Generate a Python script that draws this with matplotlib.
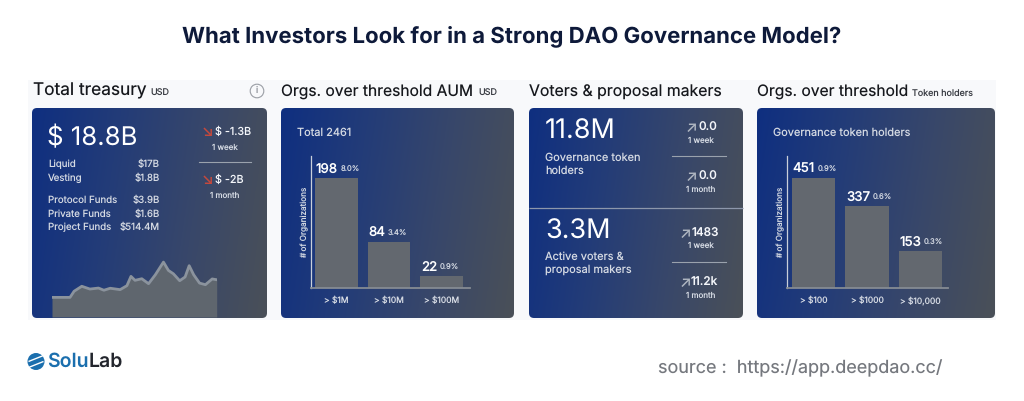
#!/usr/bin/env python
"""Four-card overview of DAO treasury, organisation and voter figures."""

import matplotlib
matplotlib.use('Agg')
import matplotlib.pyplot as plt
import matplotlib.patches as mpatch
from matplotlib.colors import LinearSegmentedColormap
import numpy as np

W, H = 1024, 401

plt.rcParams['font.family'] = ['Inter', 'DejaVu Sans']
plt.rcParams['text.hinting'] = 'no_hinting'

# treasury card
fund_names = ['Liquid', 'Vesting', 'Protocol Funds', 'Private Funds', 'Project Funds']
fund_values = ['$17B', '$1.8B', '$3.9B', '$1.6B', '$514.4M']
treasury_days = [0, 40, 49, 66, 84, 103, 115, 129, 151, 166, 175, 184, 199, 214, 229, 247,
                 258, 269, 283, 295, 304, 314, 327, 340, 355, 365]
treasury_bn = [9.9, 9.9, 13.0, 15.5, 14.1, 14.6, 13.5, 14.5, 13.8, 15.8, 20.5, 18.5, 19.3,
               16.8, 21.3, 27.7, 23.5, 21.8, 18.3, 20.2, 25.9, 21.3, 17.1, 16.3, 19.2, 18.8]

# bar cards
aum_labels = ['> $1M', '> $10M', '> $100M']
aum_counts = [198, 84, 22]
aum_shares = ['8.0%', '3.4%', '0.9%']
holder_labels = ['> $100', '> $1000', '> $10,000']
holder_counts = [451, 337, 153]
holder_shares = ['0.9%', '0.6%', '0.3%']

INK = '#16181d'
SOFT = '#d5dae3'
WHITE = '#f4f6fa'
RED = '#c4493d'
GRAD = LinearSegmentedColormap.from_list('card', ['#0f2f80', '#233c78', '#38476a', '#4a5058'])


def label(ax, x, y, s, px, color=WHITE, ha='left', **kwargs):
    return ax.text(x, y, s, fontsize=px * 0.72, color=color, ha=ha, va='center', **kwargs)


def card(ax, x0, x1, y0=108, y1=318):
    """Rounded card with a left-to-right blue to grey gradient."""
    xx, yy = np.meshgrid(np.linspace(0, 1, 200), np.linspace(0, 1, 100))
    img = ax.imshow(0.88 * xx + 0.12 * yy, extent=(x0, x1, y1, y0), cmap=GRAD, vmin=0, vmax=1,
                    aspect='auto', zorder=1, interpolation='bilinear')
    box = mpatch.FancyBboxPatch((x0 + 4, y0 + 4), x1 - x0 - 8, y1 - y0 - 8,
                                boxstyle='round,pad=4,rounding_size=5',
                                transform=ax.transData, fc='none', ec='none')
    ax.add_patch(box)
    img.set_clip_path(box)


def inset(x0, y_top, x1, y_bottom):
    a = fig.add_axes([x0 / W, 1 - y_bottom / H, (x1 - x0) / W, (y_bottom - y_top) / H])
    a.patch.set_visible(False)
    return a


def bar_panel(x0, x1, labels, counts, shares, xlim, ylim):
    a = inset(x0, 156, x1, 288.3)
    bars = a.bar(range(len(counts)), counts, width=0.81, color='#63686f')
    a.set(xlim=xlim, ylim=ylim, yticks=[], xticks=range(len(counts)))
    a.set_xticklabels(labels, fontsize=6.1, color=SOFT)
    a.tick_params(axis='x', length=0, pad=6)
    a.set_ylabel('# of Organizations', fontsize=5.9, color=SOFT, labelpad=1.5, y=0.5)
    for side in ('top', 'right'):
        a.spines[side].set_visible(False)
    a.spines['left'].set_color('#c9cfda')
    a.spines['bottom'].set_color('#858b93')
    a.spines['left'].set_linewidth(0.9)
    a.spines['bottom'].set_linewidth(1.3)
    for rect, count, share in zip(bars, counts, shares):
        num = a.annotate(str(count), (rect.get_x(), count), xytext=(0.5, 9), textcoords='offset pixels',
                         fontsize=9.5, color='white', va='center', ha='left', fontweight='medium')
        a.annotate(share, xy=(1, 0.5), xycoords=num, xytext=(2.5, -1), textcoords='offset pixels',
                   fontsize=5.5, color=SOFT, va='center', ha='left')
    return a


fig = plt.figure(figsize=(W / 100, H / 100), dpi=100, facecolor='white')
ax = fig.add_axes([0, 0, 1, 1])
ax.add_patch(mpatch.Rectangle((28, 80), 968, 240, fc='#f8f9fb', ec='none', zorder=0))

for x0, x1 in [(32, 267), (281, 514), (529, 743), (757, 995)]:
    card(ax, x0, x1)

ax.set_xlim(0, W)
ax.set_ylim(H, 0)
ax.axis('off')

label(ax, 512, 36, 'What Investors Look for in a Strong DAO Governance Model?', 22.2,
      color='#0e1a3a', ha='center', fontweight='bold')

# card headings
label(ax, 33, 91, 'Total treasury', 17.3, INK)
label(ax, 150, 93, 'USD', 9, '#3a3d44')
label(ax, 281, 92, 'Orgs. over threshold AUM', 15.6, INK)
label(ax, 478, 93, 'USD', 9, '#3a3d44')
label(ax, 529, 92, 'Voters & proposal makers', 15.8, INK)
label(ax, 757, 92, 'Orgs. over threshold', 15.6, INK)
label(ax, 912, 93, 'Token holders', 9, '#3a3d44')
ax.add_patch(mpatch.Circle((257, 91), 6.8, fc='none', ec='#9a9ea5', lw=0.8, zorder=3))
label(ax, 257, 91, 'i', 9, '#8a8e95', ha='center')

# treasury card text
label(ax, 47, 138, '$ 18.8B', 25.8, 'white', zorder=4)
fund_rows = [164.5, 178.5, 200, 214.5, 227.5]
for name, value, y in zip(fund_names, fund_values, fund_rows):
    label(ax, 48, y, name, 9.7, SOFT, zorder=4)
    label(ax, 160, y, value, 9.7, SOFT, ha='right', zorder=4)
label(ax, 207, 132, '↘', 15, RED, ha='center', zorder=4)
label(ax, 215, 132, '$ -1.3B', 10.8, WHITE, zorder=4)
label(ax, 225, 148, '1 week', 8, SOFT, ha='center', zorder=4)
ax.plot([199, 251], [162, 162], color='#9aa2ad', lw=0.8, zorder=4)
label(ax, 207, 180, '↘', 15, RED, ha='center', zorder=4)
label(ax, 215, 180, '$ -2B', 10.8, WHITE, zorder=4)
label(ax, 225, 196, '1 month', 8, SOFT, ha='center', zorder=4)

# voters card text
ax.plot([529, 743], [207.5, 207.5], color='#8d97ab', lw=0.9, zorder=4, solid_capstyle='butt')
label(ax, 545, 132, '11.8M', 27, 'white', zorder=4)
label(ax, 545, 158, 'Governance token', 11, SOFT, zorder=4)
label(ax, 545, 171, 'holders', 11, SOFT, zorder=4)
label(ax, 545, 232, '3.3M', 27, 'white', zorder=4)
label(ax, 545, 257, 'Active voters &', 11, SOFT, zorder=4)
label(ax, 545, 270, 'proposal makers', 11, SOFT, zorder=4)
for x_arrow, x_num, y, num, period in [(691, 698, 128, '0.0', '1 week'), (691, 698, 177, '0.0', '1 month'),
                                       (685, 692, 233.5, '1483', '1 week'), (685, 691, 283, '11.2k', '1 month')]:
    label(ax, x_arrow, y, '↗', 15, '#aeb5c0', ha='center', zorder=4)
    label(ax, x_num, y, num, 11.8, WHITE, zorder=4, fontweight='medium')
    label(ax, 700.5, y + 12.5, period, 8, SOFT, ha='center', zorder=4)
for y in (155.5, 261.5):
    ax.plot([672, 726], [y, y], color='#9aa2ad', lw=0.8, zorder=4)

label(ax, 297, 133, 'Total 2461', 11, SOFT, zorder=4)
label(ax, 773, 133, 'Governance token holders', 11, SOFT, zorder=4)

# logo and source line
ax.add_patch(mpatch.Circle((36, 361.5), 8.5, fc='#1b6fae', ec='none', zorder=3))
for off in (-3, 3):
    ax.plot([28.5, 43.5], [361.5 + off + 3, 361.5 + off - 3], color='white', lw=1.0, zorder=4,
            solid_capstyle='butt')
label(ax, 47, 362, 'Solu', 19.5, '#1b6fae', fontweight='semibold', zorder=4)
label(ax, 89, 362, 'Lab', 19.5, '#23262d', fontweight='semibold', zorder=4)
label(ax, 658, 368, 'source :  https://app.deepdao.cc/', 18, '#75787e')

# treasury sparkline
spark = inset(52, 250, 216.7, 317)
spark.axis('off')
spark.fill_between(treasury_days, treasury_bn, 0, color='#5f666e', lw=0)
spark.plot(treasury_days, treasury_bn, color='#8b939d', lw=2.0, solid_joinstyle='round')
spark.set(xlim=(0, 365), ylim=(0, 33.8))

bar_panel(310.7, 470, aum_labels, aum_counts, aum_shares, (-0.496, 2.54), (0, 238))
bar_panel(787.3, 948, holder_labels, holder_counts, holder_shares, (-0.498, 2.52), (0, 542))

fig.savefig('out.png', dpi=100)
